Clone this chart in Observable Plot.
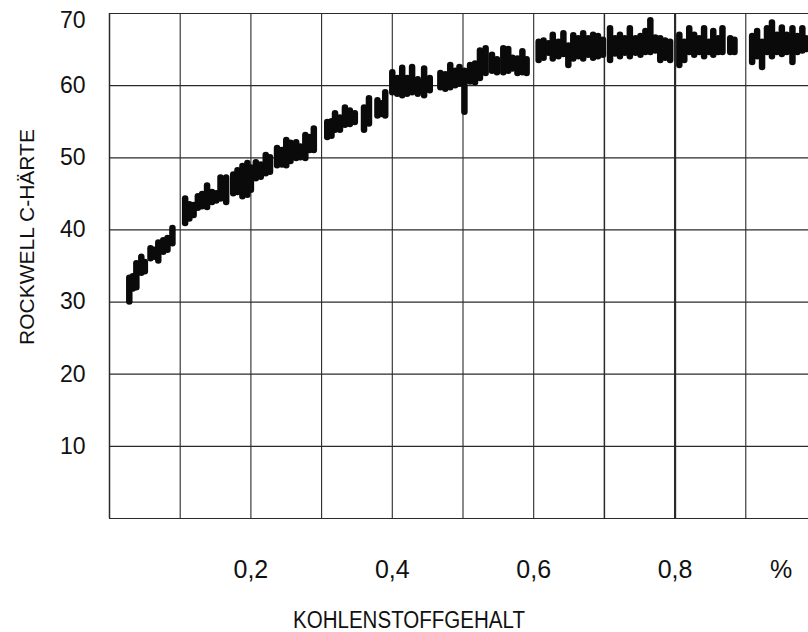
<!DOCTYPE html>
<html>
<head>
<meta charset="utf-8">
<script src="https://cdn.jsdelivr.net/npm/d3@7"></script>
<script src="https://cdn.jsdelivr.net/npm/@observablehq/plot@0.6"></script>
<style>
  html, body { margin: 0; padding: 0; background: #fff; }
  #chart { width: 808px; height: 632px; overflow: hidden; }
</style>
</head>
<body>
<div id="chart"></div>
<script>
// Carbon content (%) of each measured band
const carbon = [
  0.028, 0.033, 0.038, 0.045, 0.050, 0.058, 0.063, 0.069, 0.076, 0.082, 0.089,
  0.107, 0.113, 0.119, 0.125, 0.131, 0.138, 0.145, 0.151, 0.157, 0.165, 0.175, 0.181, 0.188, 0.195, 0.200,
  0.207, 0.214, 0.221, 0.227, 0.237, 0.244, 0.250, 0.256, 0.264, 0.270, 0.277, 0.283, 0.289,
  0.308, 0.314, 0.319, 0.326, 0.333, 0.340, 0.347, 0.360, 0.367, 0.379, 0.384, 0.390,
  0.400, 0.407, 0.414, 0.421, 0.428, 0.436, 0.445, 0.453, 0.468, 0.475, 0.482, 0.489, 0.495, 0.502,
  0.510, 0.517, 0.524, 0.532, 0.541, 0.548, 0.557, 0.564, 0.570, 0.577, 0.584, 0.590,
  0.607, 0.614, 0.621, 0.627, 0.635, 0.642, 0.649, 0.656, 0.663, 0.670, 0.677, 0.684, 0.691, 0.698,
  0.708, 0.715, 0.722, 0.729, 0.736, 0.744, 0.751, 0.758, 0.765, 0.772, 0.779, 0.786, 0.793,
  0.806, 0.813, 0.820, 0.827, 0.834, 0.841, 0.848, 0.854, 0.861, 0.867, 0.878, 0.884,
  0.909, 0.916, 0.923, 0.930, 0.937, 0.944, 0.951, 0.958, 0.966, 0.973, 0.980, 0.985
];
// Lowest Rockwell C hardness of each band
const hardLow = [
  30.0, 31.8, 32.0, 34.0, 34.2, 36.0, 36.2, 35.7, 36.9, 37.2, 38.1,
  40.9, 41.5, 42.0, 43.0, 43.2, 43.1, 43.8, 44.0, 44.3, 43.8, 45.0, 45.2, 44.6, 44.8, 45.5,
  47.1, 47.3, 47.8, 48.0, 48.9, 49.0, 48.9, 49.5, 49.9, 50.0, 49.9, 51.0, 51.0,
  52.8, 53.0, 53.8, 53.8, 54.5, 54.6, 54.9, 53.8, 54.7, 55.8, 56.0, 55.8,
  59.0, 58.8, 58.6, 58.8, 59.0, 58.8, 58.6, 59.3, 59.7, 59.5, 59.7, 60.0, 60.2, 56.3,
  60.5, 60.4, 61.0, 61.7, 62.0, 61.8, 61.8, 62.0, 62.3, 61.7, 61.8, 61.7,
  63.5, 63.8, 64.5, 63.7, 64.0, 64.3, 62.8, 63.7, 64.0, 63.7, 64.2, 63.8, 64.0, 64.2,
  63.5, 64.4, 64.0, 64.5, 64.0, 64.5, 64.2, 64.6, 64.6, 64.8, 63.5, 63.8, 63.5,
  62.8, 63.5, 64.6, 64.2, 64.6, 64.0, 64.6, 64.2, 64.6, 64.6, 64.6, 64.6,
  63.2, 64.0, 62.5, 64.6, 64.0, 64.6, 64.3, 64.6, 63.2, 64.6, 64.8, 65.0
];
// Highest Rockwell C hardness of each band
const hardHigh = [
  33.3, 33.5, 35.3, 36.2, 35.5, 37.4, 37.2, 38.2, 38.5, 38.8, 40.2,
  44.3, 43.5, 43.4, 44.6, 44.9, 46.1, 45.2, 45.0, 47.2, 47.2, 47.6, 48.2, 48.8, 49.2, 48.6,
  49.3, 49.0, 50.3, 50.0, 51.3, 51.0, 52.4, 52.0, 52.1, 51.5, 53.1, 52.8, 54.0,
  54.9, 55.0, 56.1, 55.5, 56.9, 56.5, 56.1, 56.9, 58.2, 57.9, 57.5, 59.0,
  61.8, 61.0, 62.4, 61.0, 62.5, 60.8, 62.3, 61.0, 61.7, 61.5, 62.8, 62.0, 62.5, 62.0,
  62.8, 63.0, 64.8, 65.1, 64.2, 63.6, 65.1, 65.0, 63.8, 63.7, 64.7, 63.6,
  66.0, 66.2, 65.8, 67.0, 66.0, 67.2, 65.5, 66.9, 66.5, 67.2, 66.5, 67.0, 66.8, 66.3,
  67.9, 66.5, 67.0, 66.5, 67.9, 66.5, 66.8, 67.5, 69.0, 66.6, 66.5, 66.2, 66.0,
  67.0, 66.0, 67.9, 67.0, 66.5, 67.9, 66.0, 67.5, 66.5, 67.9, 66.5, 66.3,
  66.8, 67.5, 66.0, 67.9, 68.7, 67.0, 68.0, 67.0, 67.9, 66.8, 67.9, 66.5
];

const gridX = [0, 0.1, 0.2, 0.3, 0.4, 0.5, 0.6, 0.7, 0.8, 0.9];
const gridY = [0, 10, 20, 30, 40, 50, 60, 70];
const xTickValues = [0.2, 0.4, 0.6, 0.8, 0.95];
const xTickLabels = ["0,2", "0,4", "0,6", "0,8", "%"];
const yTickValues = [10, 20, 30, 40, 50, 60];
const yTopTick = [70];
const xLabel = "KOHLENSTOFFGEHALT";
const yLabel = "ROCKWELL C-HÄRTE";

const bars = carbon.map((c, i) => ({c, lo: hardLow[i], hi: hardHigh[i]}));
const gridXData = gridX.map(v => ({v, w: v === 0.8 ? 2.2 : (v === 0 || v === 0.7 ? 1.5 : 1.1)}));

const chart = Plot.plot({
  width: 808,
  height: 632,
  marginLeft: 109,
  marginRight: 0,
  marginTop: 13,
  marginBottom: 114,
  x: {domain: [0, 0.9887]},
  y: {domain: [0, 70]},
  style: {fontFamily: "'Liberation Sans', Arial, sans-serif", background: "#fff", color: "#111"},
  marks: [
    Plot.ruleX(gridXData, {x: "v", stroke: "#2a2a2a", strokeWidth: "w"}),
    Plot.ruleY(gridY, {stroke: "#2a2a2a", strokeWidth: 1.2}),
    Plot.ruleX(bars, {x: "c", y1: "lo", y2: "hi", stroke: "#0a0a0a", strokeWidth: 6.5, strokeLinecap: "round"}),
    Plot.axisX({ticks: xTickValues, tickFormat: d => xTickLabels[xTickValues.indexOf(d)], tickSize: 0, tickPadding: 42, fontSize: 25, label: null, color: "#111"}),
    Plot.axisY({ticks: yTickValues, tickSize: 0, tickPadding: 24, fontSize: 23, label: null, color: "#111"}),
    Plot.axisY({ticks: yTopTick, tickSize: 0, tickPadding: 24, fontSize: 23, label: null, dy: 7, color: "#111"}),
    Plot.text([xLabel], {frameAnchor: "bottom", textAnchor: "middle", lineAnchor: "middle", dx: -50, dy: 102, fontSize: 23, fill: "#111"}),
    Plot.text([yLabel], {frameAnchor: "left", textAnchor: "middle", lineAnchor: "middle", rotate: -90, dx: -82, dy: -29, fontSize: 21, fill: "#111"})
  ]
});

document.getElementById("chart").appendChild(chart);

chart.querySelectorAll("text").forEach(t => {
  if (t.textContent === xLabel) { t.setAttribute("textLength", 232); t.setAttribute("lengthAdjust", "spacingAndGlyphs"); }
});
</script>
</body>
</html>
